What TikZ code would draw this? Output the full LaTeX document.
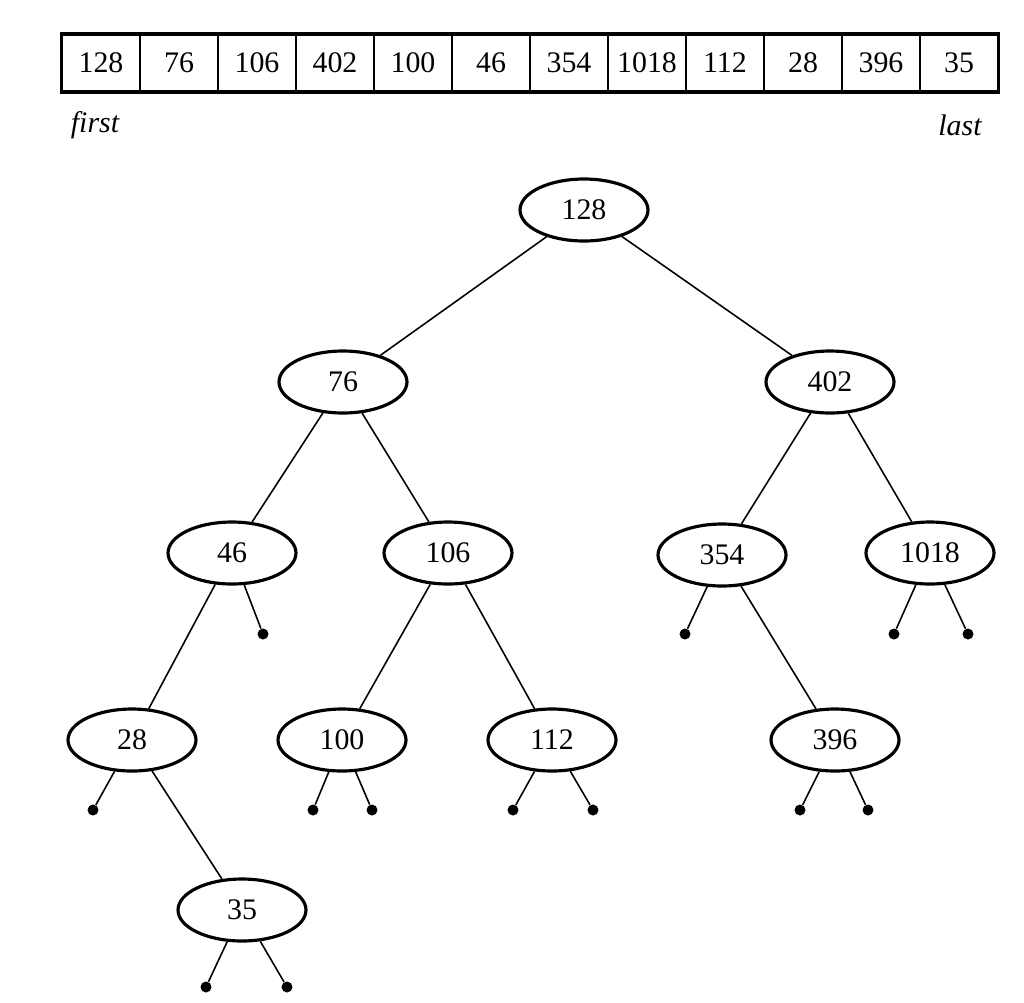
\documentclass[tikz,border=0pt]{standalone}
\usepackage{fontspec}
\setmainfont{Liberation Serif}
\usetikzlibrary{shapes.geometric}

\tikzset{
  key/.style={ellipse, draw, line width=1.8pt, minimum width=2.56cm,
              minimum height=1.24cm, inner sep=0pt, font=\fontsize{17}{20}\selectfont},
  cell/.style={draw, line width=0.8pt, minimum width=1.56cm, minimum height=1.14cm,
               inner sep=0pt, font=\fontsize{17}{20}\selectfont},
  nil/.style={circle, fill, inner sep=0pt, minimum size=0.22cm},
  link/.style={line width=0.9pt}
}

\begin{document}
\begin{tikzpicture}[x=0.02cm, y=-0.02cm]
    \useasboundingbox (0,0) rectangle (1024,1002);
    % the array
    \foreach \v [count=\i] in {128,76,106,402,100,46,354,1018,112,28,396,35}
        \node [cell] (c\i) at ({62+78*(\i-0.5)},63) {\v};
    \draw [line width=2pt] (c1.north west) rectangle (c12.south east);
    \node [font=\fontsize{17}{20}\selectfont\itshape] (first) at (95,125) {first};
    \node [font=\fontsize{17}{20}\selectfont\itshape] (last) at (960,125) {last};

    % the tree
    \node [key] (k128) at (584,210) {128};
    \node [key] (k76) at (343,382) {76};
    \node [key] (k402) at (830,382) {402};
    \node [key] (k46) at (232,553) {46};
    \node [key] (k106) at (448,553) {106};
    \node [key] (k354) at (722,555) {354};
    \node [key] (k1018) at (930,553) {1018};
    \node [key] (k28) at (132,740) {28};
    \node [key] (k100) at (342,740) {100};
    \node [key] (k112) at (552,740) {112};
    \node [key] (k396) at (835,740) {396};
    \node [key] (k35) at (242,910) {35};

    % empty subtrees
    \node [nil] (n46r) at (263,634) {};
    \node [nil] (n354l) at (685,634) {};
    \node [nil] (n1018l) at (894,634) {};
    \node [nil] (n1018r) at (968,634) {};
    \node [nil] (n28l) at (93,810) {};
    \node [nil] (n100l) at (313,810) {};
    \node [nil] (n100r) at (372,810) {};
    \node [nil] (n112l) at (513,810) {};
    \node [nil] (n112r) at (593,810) {};
    \node [nil] (n396l) at (800,810) {};
    \node [nil] (n396r) at (868,810) {};
    \node [nil] (n35l) at (206,987) {};
    \node [nil] (n35r) at (287,987) {};

    \draw [link] (k128) -- (k76);
    \draw [link] (k128) -- (k402);
    \draw [link] (k76) -- (k46);
    \draw [link] (k76) -- (k106);
    \draw [link] (k402) -- (k354);
    \draw [link] (k402) -- (k1018);
    \draw [link] (k46) -- (k28);
    \draw [link] (k46) -- (n46r);
    \draw [link] (k106) -- (k100);
    \draw [link] (k106) -- (k112);
    \draw [link] (k354) -- (n354l);
    \draw [link] (k354) -- (k396);
    \draw [link] (k1018) -- (n1018l);
    \draw [link] (k1018) -- (n1018r);
    \draw [link] (k28) -- (n28l);
    \draw [link] (k28) -- (k35);
    \draw [link] (k100) -- (n100l);
    \draw [link] (k100) -- (n100r);
    \draw [link] (k112) -- (n112l);
    \draw [link] (k112) -- (n112r);
    \draw [link] (k396) -- (n396l);
    \draw [link] (k396) -- (n396r);
    \draw [link] (k35) -- (n35l);
    \draw [link] (k35) -- (n35r);
\end{tikzpicture}
\end{document}
